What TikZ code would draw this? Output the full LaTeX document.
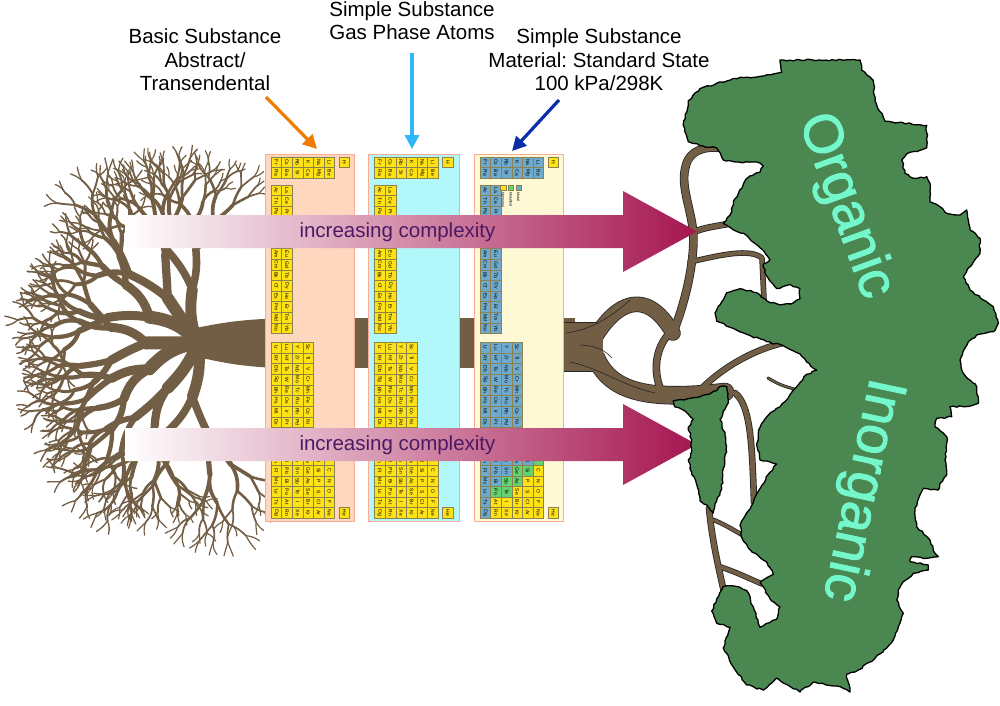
\documentclass[tikz,border=0pt]{standalone}
\usepackage{fontspec}
\setmainfont{Liberation Sans}
\newfontfamily\wordfont{Liberation Sans}[FakeBold=1.6]
\usetikzlibrary{arrows.meta,decorations.pathmorphing}
\frenchspacing

\definecolor{treecol}{RGB}{114,94,69}
\definecolor{pinkend}{RGB}{165,22,80}
\definecolor{pinkmid}{RGB}{218,160,192}
\definecolor{txtpurple}{RGB}{75,25,100}
\definecolor{landgreen}{RGB}{75,135,80}
\definecolor{aqua}{RGB}{117,247,204}
\definecolor{panelA}{RGB}{253,216,190}
\definecolor{panelB}{RGB}{178,248,250}
\definecolor{panelC}{RGB}{255,248,212}
\definecolor{panelborder}{RGB}{250,170,150}
\definecolor{elyellow}{RGB}{255,226,20}
\definecolor{elblue}{RGB}{110,170,205}
\definecolor{elgreen}{RGB}{100,210,110}
\definecolor{elborder}{RGB}{140,130,80}
\definecolor{arrorange}{RGB}{240,125,0}
\definecolor{arrlblue}{RGB}{50,182,250}
\definecolor{arrdblue}{RGB}{10,45,170}

% one row of element cells
\newcommand\prow[5]{%
  \foreach \esym/\ecode [count=\ecol from 0] in {#5}{%
    \draw[cellst, fill=c\ecode] ({#2+\ecol*10.6},#3) rectangle ++(10.6,#4);
    \node[celltext, name=#1-\esym] at ({#2+\ecol*10.6+5.3},{#3+#4/2}) {\esym};
  }}

% a whole rotated periodic table
\newcommand\ptable[2]{%
  \pgfmathsetmacro\cx{#2+6}\pgfmathsetmacro\hx{#2+74}%
  \prow{#1}{\cx}{157}{10.6}{Fr/M,Cs/M,Rb/M,K/M,Na/M,Li/M}
  \prow{#1}{\cx}{167.6}{10.6}{Ra/M,Ba/M,Sr/M,Ca/M,Mg/M,Be/M}
  \prow{#1}{\hx}{157}{10.6}{H/N}
  \prow{#1}{\cx}{185}{10.6}{Ac/M,La/M}
  \prow{#1}{\cx}{195.6}{10.6}{Th/M,Ce/M}
  \prow{#1}{\cx}{206.2}{10.6}{Pa/M,Pr/M}
  \prow{#1}{\cx}{216.8}{10.6}{U/M,Nd/M}
  \prow{#1}{\cx}{227.4}{10.6}{Np/M,Pm/M}
  \prow{#1}{\cx}{238}{10.6}{Pu/M,Sm/M}
  \prow{#1}{\cx}{248.6}{10.6}{Am/M,Eu/M}
  \prow{#1}{\cx}{259.2}{10.6}{Cm/M,Gd/M}
  \prow{#1}{\cx}{269.8}{10.6}{Bk/M,Tb/M}
  \prow{#1}{\cx}{280.4}{10.6}{Cf/M,Dy/M}
  \prow{#1}{\cx}{291}{10.6}{Es/M,Ho/M}
  \prow{#1}{\cx}{301.6}{10.6}{Fm/M,Er/M}
  \prow{#1}{\cx}{312.2}{10.6}{Md/M,Tm/M}
  \prow{#1}{\cx}{322.8}{10.6}{No/M,Yb/M}
  \prow{#1}{\cx}{342}{10.7}{Lr/M,Lu/M,Y/M,Sc/M}
  \prow{#1}{\cx}{352.7}{10.7}{Rf/M,Hf/M,Zr/M,Ti/M}
  \prow{#1}{\cx}{363.4}{10.7}{Db/M,Ta/M,Nb/M,V/M}
  \prow{#1}{\cx}{374.1}{10.7}{Sg/M,W/M,Mo/M,Cr/M}
  \prow{#1}{\cx}{384.8}{10.7}{Bh/M,Re/M,Tc/M,Mn/M}
  \prow{#1}{\cx}{395.5}{10.7}{Hs/M,Os/M,Ru/M,Fe/M}
  \prow{#1}{\cx}{406.2}{10.7}{Mt/M,Ir/M,Rh/M,Co/M}
  \prow{#1}{\cx}{416.9}{10.7}{Ds/M,Pt/M,Pd/M,Ni/M}
  \prow{#1}{\cx}{427.6}{10.7}{Rg/M,Au/M,Ag/M,Cu/M}
  \prow{#1}{\cx}{438.3}{10.7}{Cn/M,Hg/M,Cd/M,Zn/M}
  \prow{#1}{\cx}{455}{10.5}{Nh/M,Tl/M,In/M,Ga/M,Al/M,B/D}
  \prow{#1}{\cx}{465.5}{10.5}{Fl/M,Pb/M,Sn/M,Ge/D,Si/D,C/N}
  \prow{#1}{\cx}{476}{10.5}{Mc/M,Bi/M,Sb/D,As/D,P/N,N/N}
  \prow{#1}{\cx}{486.5}{10.5}{Lv/M,Po/D,Te/D,Se/N,S/N,O/N}
  \prow{#1}{\cx}{497}{10.5}{Ts/M,At/N,I/N,Br/N,Cl/N,F/N}
  \prow{#1}{\cx}{507.5}{10.5}{Og/M,Rn/N,Xe/N,Kr/N,Ar/N,Ne/N}
  \prow{#1}{\hx}{507.5}{10.5}{He/N}
}

% recursive branch of the left tree
\newcommand\tbr[3]{%
  \edef\tD{#1}\edef\tL{#2}\edef\tW{#3}%
  \pgfmathsetmacro\tB{rand*22}%
  \draw[treecol, line width=\tW pt, line cap=round] (0pt,0pt) to[bend left=\tB] (\tL pt,0pt);
  \ifnum\tD>0
    \pgfmathtruncatemacro\tND{\tD-1}%
    \pgfmathsetmacro\tLA{\tL*(0.68+0.17*rnd)}%
    \pgfmathsetmacro\tLB{\tL*(0.68+0.17*rnd)}%
    \pgfmathsetmacro\tNW{\tW*0.69}%
    \pgfmathsetmacro\tAA{10+24*rnd}%
    \pgfmathsetmacro\tAB{-10-24*rnd}%
    \begin{scope}[xshift=\tL pt, rotate=\tAA]\tbr{\tND}{\tLA}{\tNW}\end{scope}
    \begin{scope}[xshift=\tL pt, rotate=\tAB]\tbr{\tND}{\tLB}{\tNW}\end{scope}
  \fi}

% branches of the right tree (#1 extra width, #2 colour)
\newcommand\righttree[2]{%
  \begin{scope}[draw=#2, line cap=round, line join=round]
    \draw[line width=\the\dimexpr 48pt+#1pt\relax, line cap=butt] (556,347) -- (603,347);
    \draw[line width=\the\dimexpr 14pt+#1pt\relax] (596,336) .. controls (615,305) and (645,285) .. (673,333);
    \draw[line width=\the\dimexpr 17pt+#1pt\relax] (596,358) .. controls (612,395) and (655,400) .. (725,392);
    \draw[line width=\the\dimexpr 6pt+#1pt\relax] (662,392) .. controls (652,372) and (655,345) .. (673,330);
    \draw[line width=\the\dimexpr 7pt+#1pt\relax] (673,333) .. controls (690,290) and (695,250) .. (693,230) .. controls (690,205) and (680,185) .. (686,165) .. controls (690,150) and (705,146) .. (722,148);
    \draw[line width=\the\dimexpr 5pt+#1pt\relax] (693,232) .. controls (705,228) .. (728,224);
    \draw[line width=\the\dimexpr 4pt+#1pt\relax] (690,262) .. controls (720,255) and (750,248) .. (762,258) -- (764,300);
    \draw[line width=\the\dimexpr 5pt+#1pt\relax] (700,390) .. controls (720,370) and (750,350) .. (787,342);
    \draw[line width=\the\dimexpr 1.5pt+#1pt\relax] (768,378) .. controls (780,385) .. (804,392);
    \draw[line width=\the\dimexpr 5pt+#1pt\relax] (735,393) .. controls (750,405) and (752,440) .. (754,502);
    \draw[line width=\the\dimexpr 5pt+#1pt\relax] (709,508) .. controls (712,540) and (718,565) .. (724,592);
    \draw[line width=\the\dimexpr 3pt+#1pt\relax] (714,520) .. controls (725,525) .. (744,536);
    \draw[line width=\the\dimexpr 4pt+#1pt\relax] (718,566) .. controls (735,572) .. (762,584);
  \end{scope}}

\begin{document}
\begin{tikzpicture}[x=1pt,y=-1pt,
  cellst/.style={draw=elborder, line width=0.4pt},
  celltext/.style={rotate=-90, inner sep=0pt, font=\fontsize{5}{5}\selectfont},
  panelst/.style={draw=panelborder, line width=1pt},
  lbl/.style={font=\fontsize{20.5}{23.5}\selectfont, align=center, inner sep=0pt, anchor=north},
  cplx/.style={font=\fontsize{20.5}{24}\selectfont, text=txtpurple, inner sep=0pt, anchor=base},
  bigword/.style={font=\wordfont\fontsize{55}{60}\selectfont, text=aqua, inner sep=0pt},
  toparr/.style={line width=3.2pt, -{Triangle[length=14pt,width=14pt]}},
  land/.style={fill=landgreen, draw=black, line width=1.3pt, line join=round},
  legtext/.style={rotate=-90, anchor=west, inner sep=0pt, font=\fontsize{3.6}{3.6}\selectfont}]

\fill[white] (0,0) rectangle (1000,705);
\useasboundingbox (0,0) rectangle (1000,705);

% ---------------- left tree
\pgfmathsetseed{11}
\begin{scope}[shift={(198,343)}]
  \foreach \ang/\len/\wid in {96/54/11, 124/54/12, 152/55/13, 180/52/13, 208/55/13, 236/54/12, 264/54/11}{
    \begin{scope}[rotate=\ang]\tbr{6}{\len}{\wid}\end{scope}
  }
\end{scope}
\fill[treecol] (290,318) .. controls (245,319) and (225,322) .. (196,328) -- (193,356) .. controls (220,362) and (245,368) .. (290,368) -- cycle;
\fill[treecol] (285,318) rectangle (575,368);

% ---------------- right tree
\righttree{1.6}{black!85}
\righttree{0}{treecol}
\draw[black!85, line width=0.6pt] (566,333) .. controls (590,330) and (610,318) .. (630,300);
\draw[black!85, line width=0.6pt] (570,362) .. controls (600,368) and (620,385) .. (655,393);
\draw[black!85, line width=0.6pt] (580,345) .. controls (600,346) and (606,352) .. (612,358);

% ---------------- panels
\draw[panelst, fill=panelA] (265,154) rectangle (354.5,521);
\draw[panelst, fill=panelB] (368.5,154) rectangle (459,521);
\draw[panelst, fill=panelC] (474,154) rectangle (563,521);

\begin{scope}
  \colorlet{cM}{elyellow}\colorlet{cD}{elyellow}\colorlet{cN}{elyellow}
  \ptable{PA}{265}
  \ptable{PB}{368.5}
\end{scope}
\begin{scope}
  \colorlet{cM}{elblue}\colorlet{cD}{elgreen}\colorlet{cN}{elyellow}
  \ptable{PC}{474}
  \draw[cellst, fill=elyellow] (500.5,185) rectangle ++(5.2,5.2);
  \draw[cellst, fill=elgreen] (508.2,185) rectangle ++(5.2,5.2);
  \draw[cellst, fill=elblue] (515.9,185) rectangle ++(5.2,5.2);
  \node[legtext, name=legN] at (503.1,192) {Nonmetal};
  \node[legtext, name=legD] at (510.8,192) {Metalloid};
  \node[legtext, name=legM] at (518.5,192) {Metal};
\end{scope}

% ---------------- pink arrows
\shade[left color=white, middle color=pinkmid, right color=pinkend]
  (125,215) -- (623,215) -- (623,191) -- (697,231.5) -- (623,272) -- (623,248) -- (125,248) -- cycle;
\shade[left color=white, middle color=pinkmid, right color=pinkend]
  (125,428) -- (623,428) -- (623,404) -- (697,444.5) -- (623,485) -- (623,461) -- (125,461) -- cycle;
\node[cplx, name=cx1] at (397.5,237) {increasing complexity};
\node[cplx, name=cx2] at (397.5,450) {increasing complexity};

% ---------------- green land
\pgfmathsetseed{5}
\draw[land, decorate, decoration={random steps, segment length=3.5pt, amplitude=0.9pt}]
 (780,60) -- (860,60) -- (861.7,70.2) -- (873.3,80.4) -- (875,100.8) -- (885,121.2) -- (926.7,125.3) -- (926.7,147.8) -- (906.7,153.9) -- (901.7,160) -- (905,173.3) -- (913.3,178.3) -- (926.7,176.7) -- (930,183.3) -- (930,201.7) -- (940,206.7) -- (946.7,213.3) -- (960,215) -- (966.7,210) -- (970,230) -- (980,238.3) -- (980,253.3) -- (970,266.7) -- (963.3,276.7) -- (970,290) -- (983.3,300) -- (993.3,306.7) -- (998.3,323.3) -- (993.3,331.7) -- (976.7,335) -- (968.3,341.7) -- (960,360) -- (963.3,373.3) -- (970,380) -- (976.7,386.7) -- (978.3,403.3) -- (963.3,406.7) -- (950,406.7) -- (951.7,416.7) -- (936.7,418.3) -- (935,426.7) -- (946.7,436.7) -- (945,460) -- (946.7,475) -- (940,483.3) -- (938.3,490) -- (923.3,488.3) -- (915,510) -- (916.7,526.7) -- (930,540) -- (935,553.3) -- (938.3,556.7) -- (926.7,558.3) -- (911.7,556.7) -- (910,561.7) -- (928.3,565) -- (928.3,570) -- (913.3,573.3) -- (903.3,581.7) -- (898.3,590) -- (896.7,600) -- (903.3,613.3) -- (898.3,626.7) -- (893.3,640) -- (883,652) -- (870,662) -- (858.3,670) -- (846.7,674) -- (850,692) -- (836.7,686) -- (813.3,682) -- (800,692) -- (776.7,678) -- (763.3,690) -- (746.7,685) -- (733.3,667) -- (723.3,648) -- (730,627.3) -- (716.7,623.3) -- (711.7,611) -- (716.7,598.8) -- (723.3,586.5) -- (736.7,586.5) -- (746.7,590.6) -- (753.3,606.9) -- (760,627.3) -- (776.7,619.2) -- (780,606.9) -- (770,598.8) -- (760,582.4) -- (773.3,574.3) -- (766.7,562) -- (750,549.8) -- (741.7,537.6) -- (740,525.3) -- (750,509) -- (760,488.6) -- (770,472.2) -- (776.7,464.1) -- (760,460) -- (756.7,443.7) -- (760,427.3) -- (768.3,415.1) -- (780,406.9) -- (790,394.7) -- (800,382.4) -- (806.7,374.3) -- (816.7,370.2) -- (806.7,362) -- (800,353.9) -- (783.3,345.7) -- (766.7,341.6) -- (750,335.5) -- (730,327.3) -- (716.7,321.2) -- (715,313.1) -- (720,304.9) -- (726.7,292.7) -- (740,288.6) -- (756.7,292.7) -- (766.7,300.8) -- (780,304.9) -- (793.3,302.9) -- (800,298.8) -- (800,288.6) -- (790,284.5) -- (776.7,288.6) -- (766.7,276.3) -- (763.3,264.1) -- (770,260) -- (760,247.8) -- (746.7,235.5) -- (730,227.3) -- (723.3,223.3) -- (730,215.1) -- (735,198.8) -- (746.7,178.4) -- (760,172.2) -- (763.3,166.1) -- (756.7,162) -- (736.7,162) -- (723.3,160) -- (716.7,147.8) -- (700,145.7) -- (688.3,141.6) -- (683.3,125.3) -- (688.3,100.8) -- (700,88.6) -- (733.3,78.4) -- (760,76.3) -- (781.7,72.2) -- cycle;
\draw[land, decorate, decoration={random steps, segment length=3.5pt, amplitude=0.9pt}]
 (673.3,400.8) -- (700,396.7) -- (716.7,390.6) -- (720,386.5) -- (726.7,386.5) -- (728.3,402.9) -- (723.3,411) -- (720,419.2) -- (725,435.5) -- (726.7,451.8) -- (723.3,468.2) -- (721.7,488.6) -- (716.7,500.8) -- (713.3,513.1) -- (706.7,504.9) -- (700,500.8) -- (696.7,484.5) -- (691.7,472.2) -- (688.3,460) -- (691.7,451.8) -- (691.7,439.6) -- (688.3,427.3) -- (693.3,419.2) -- (685,411) -- (675,406.9) -- cycle;

\node[bigword, rotate=-70, name=org] at (845,206) {Organic};
\node[bigword, rotate=-102, name=inorg] at (861,490) {Inorganic};

% ---------------- top labels and their arrows
\node[lbl, name=lab1] at (205,28.5) {Basic Substance\\Abstract/\\Transendental};
\node[lbl, name=lab2] at (412,1) {Simple Substance\\Gas Phase Atoms};
\node[lbl, name=lab3] at (599,28.5) {Simple Substance\\Material: Standard State\\100 kPa/298K};
\coordinate (a1s) at (266,97);  \coordinate (a1e) at (317,149);
\coordinate (a2s) at (412,53);  \coordinate (a2e) at (412,149);
\coordinate (a3s) at (559,100); \coordinate (a3e) at (512,151);
\draw[toparr, arrorange] (a1s) -- (a1e);
\draw[toparr, arrlblue] (a2s) -- (a2e);
\draw[toparr, arrdblue] (a3s) -- (a3e);
\end{tikzpicture}
\end{document}
